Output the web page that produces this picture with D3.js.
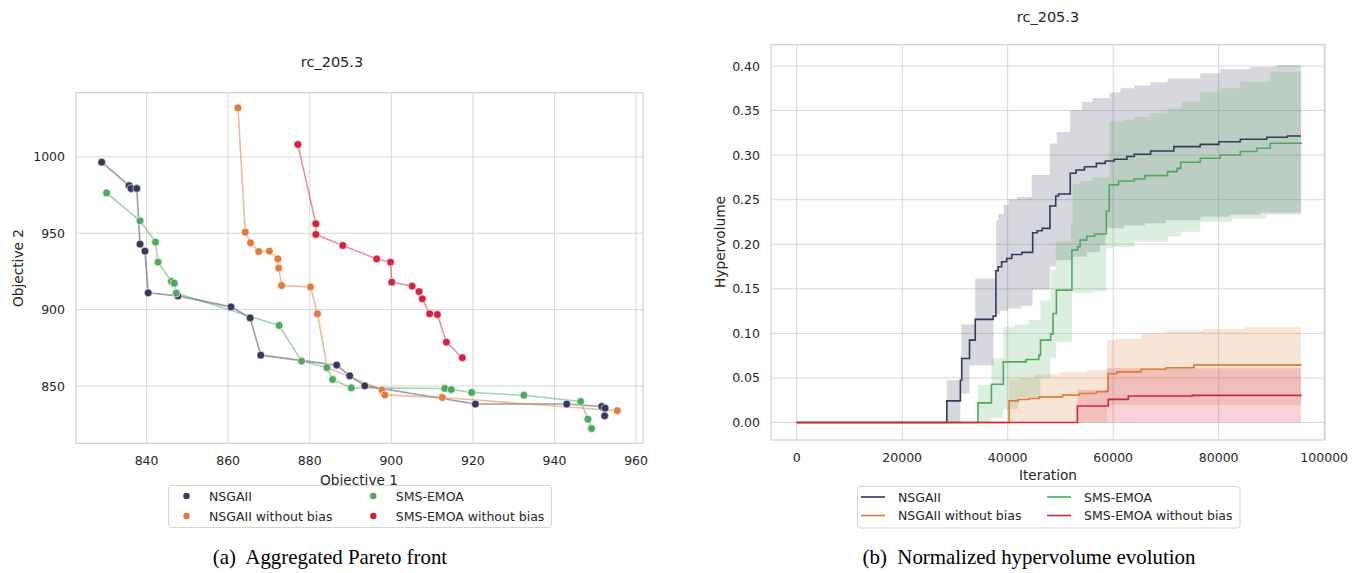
<!DOCTYPE html>
<html>
<head>
<meta charset="utf-8">
<script src="https://cdn.jsdelivr.net/npm/d3@7"></script>
<style>
  html, body { margin: 0; padding: 0; background: #ffffff; }
  svg { display: block; }
  text { font-family: "DejaVu Sans", sans-serif; fill: #262626; }
  .cap { font-family: "Liberation Serif", "Times New Roman", serif; fill: #000; }
</style>
</head>
<body>
<svg id="chart" width="1362" height="573"></svg>
<script>
// ---------------- DATA ----------------
const seriesNames = ["NSGAII", "NSGAII without bias", "SMS-EMOA", "SMS-EMOA without bias"];
const seriesColors = ["#35395a", "#e07b39", "#4fa85d", "#d1253f"];
const chartTitle = "rc_205.3";

// (a) aggregated Pareto fronts: [objective1, objective2]
const nsgaFront = [[829.0,996.5],[835.7,981.2],[836.2,979.3],[837.6,979.3],[838.4,942.9],[839.6,938.3],[840.4,911.0],[847.7,909.0],[860.7,901.8],[865.4,894.6],[868.0,870.2],[886.6,863.7],[889.8,856.7],[893.5,850.1],[920.6,838.2],[943.0,838.2],[951.6,836.6],[952.4,835.5],[952.3,830.5]];
const nsgaNbFront = [[862.4,1032.1],[864.2,950.7],[865.5,943.7],[867.5,938.0],[870.1,938.3],[872.2,933.2],[872.4,927.2],[873.1,915.8],[880.2,914.9],[881.9,897.3],[884.3,862.1],[897.7,847.5],[898.4,844.2],[912.5,842.5],[955.4,833.8]];
const smsFront = [[830.2,976.4],[838.4,958.1],[842.2,944.2],[842.8,931.1],[846.1,918.4],[846.8,917.3],[847.3,910.8],[872.5,889.6],[878.0,866.3],[884.2,862.1],[885.6,854.3],[890.2,848.8],[913.1,848.4],[914.7,847.7],[919.7,845.8],[932.5,844.0],[946.4,839.9],[948.2,828.3],[949.1,822.2]];
const smsNbFront = [[877.1,1008.1],[881.5,956.2],[881.5,949.2],[888.1,942.0],[896.4,933.2],[899.8,931.1],[900.1,918.0],[905.1,915.4],[906.8,911.8],[907.6,907.1],[909.4,897.3],[911.3,896.8],[913.5,878.7],[917.4,868.5]];
const frontTicksX = [840, 860, 880, 900, 920, 940, 960];
const frontTicksY = [850, 900, 950, 1000];

// (b) hypervolume evolution: step series [iteration, value]
const nsgaMean = [[0,0],[28460,0.0243],[31030,0.0475],[31280,0.0719],[32760,0.0924],[33850,0.1157],[37240,0.1194],[37760,0.1703],[38200,0.1748],[38850,0.1804],[39800,0.1841],[40770,0.1886],[42690,0.1909],[44740,0.2130],[45580,0.2152],[46540,0.2178],[48010,0.2429],[49100,0.2541],[49620,0.2564],[51860,0.2796],[52950,0.2833],[54550,0.2870],[56800,0.2908],[58500,0.2935],[60200,0.2953],[62600,0.2985],[64000,0.3010],[67100,0.3047],[71500,0.3095],[76500,0.3121],[80000,0.3151],[84100,0.3178],[89100,0.3200],[93000,0.3215],[95600,0.3215]];
const nsgaLow = [[0,0],[31000,0.0326],[32760,0.064],[37300,0.122],[38500,0.1255],[40000,0.128],[42500,0.131],[44700,0.149],[48000,0.175],[49100,0.182],[52000,0.186],[55000,0.191],[57500,0.199],[58500,0.218],[62000,0.221],[66000,0.2236],[70000,0.227],[76500,0.231],[82000,0.233],[88000,0.2355],[95600,0.2385]];
const nsgaHigh = [[0,0],[28460,0.0475],[31200,0.110],[33850,0.1617],[37800,0.227],[38200,0.234],[39200,0.244],[40200,0.2505],[41800,0.253],[44550,0.2777],[48000,0.313],[49300,0.326],[51860,0.3507],[54100,0.360],[56100,0.364],[59300,0.3694],[60000,0.3705],[61400,0.375],[64000,0.378],[67100,0.3817],[70300,0.386],[76500,0.3918],[80300,0.3966],[86000,0.399],[91000,0.401],[95600,0.403]];

const nsgaNbMean = [[0,0],[40260,0.0243],[42000,0.0258],[44000,0.0269],[46000,0.0288],[50400,0.0307],[53600,0.0326],[56800,0.0345],[58800,0.0355],[59050,0.0548],[60700,0.0568],[65300,0.0598],[70000,0.0615],[75300,0.0647],[95600,0.0654]];
const nsgaNbLow = [[0,0],[58800,0.0196],[95600,0.0198]];
const nsgaNbHigh = [[0,0],[40260,0.048],[42000,0.050],[45000,0.054],[50000,0.057],[55000,0.059],[58800,0.0925],[60500,0.094],[65400,0.100],[70000,0.103],[77000,0.105],[85000,0.107],[95600,0.1088]];

const smsMean = [[0,0],[34360,0.0221],[36920,0.043],[39170,0.0681],[43500,0.0707],[45900,0.0756],[46220,0.0924],[48140,0.0992],[48590,0.1224],[49230,0.1486],[52180,0.1935],[53270,0.1972],[53720,0.2047],[55000,0.2090],[56470,0.2115],[58700,0.2374],[59250,0.2666],[61000,0.2710],[64000,0.2733],[66000,0.2770],[70300,0.2815],[72100,0.2852],[72800,0.2920],[76500,0.2965],[80300,0.3002],[84100,0.3040],[87200,0.3077],[89750,0.3133],[95600,0.3144]];
const smsLow = [[0,0],[36900,0.005],[39170,0.015],[42000,0.028],[46200,0.050],[48100,0.072],[49200,0.090],[52200,0.145],[56000,0.147],[58700,0.1955],[60000,0.197],[64000,0.203],[70300,0.2086],[72800,0.214],[76500,0.2254],[82500,0.229],[89000,0.233],[95600,0.2348]];
const smsHigh = [[0,0],[34360,0.042],[36920,0.072],[39170,0.107],[41400,0.110],[44000,0.115],[46200,0.137],[48140,0.171],[49100,0.203],[52000,0.2234],[52300,0.268],[53800,0.271],[56000,0.275],[59250,0.3376],[62000,0.340],[64000,0.343],[67000,0.347],[70300,0.3525],[73000,0.360],[76500,0.371],[80300,0.375],[84100,0.3824],[89800,0.3936],[95600,0.3955]];

const smsNbMean = [[0,0],[53200,0.0185],[59070,0.0260],[62860,0.0297],[75000,0.0305],[95600,0.0314]];
const smsNbLow = [[0,0],[95600,0]];
const smsNbHigh = [[0,0],[53200,0.0364],[58800,0.061],[95600,0.061]];

const hvTicksX = [0, 20000, 40000, 60000, 80000, 100000];
const hvTicksY = [0, 0.05, 0.10, 0.15, 0.20, 0.25, 0.30, 0.35, 0.40];

// ---------------- DRAW ----------------
const svg = d3.select("#chart");
svg.append("rect").attr("width", 1362).attr("height", 573).attr("fill", "#fff");
const gridColor = "#d6d6d6", spineColor = "#cfcfcf";

function frame(g, x, y, ticksX, ticksY, fmtX, fmtY) {
  const [x0, x1] = x.range(), [y0, y1] = y.range();
  g.append("g").selectAll("line").data(ticksX).join("line")
    .attr("x1", d => x(d)).attr("x2", d => x(d)).attr("y1", y0).attr("y2", y1)
    .attr("stroke", gridColor).attr("stroke-width", 1);
  g.append("g").selectAll("line").data(ticksY).join("line")
    .attr("y1", d => y(d)).attr("y2", d => y(d)).attr("x1", x0).attr("x2", x1)
    .attr("stroke", gridColor).attr("stroke-width", 1);
  g.append("rect").attr("x", x0).attr("y", y1).attr("width", x1 - x0).attr("height", y0 - y1)
    .attr("fill", "none").attr("stroke", spineColor).attr("stroke-width", 1.2);
  g.append("g").selectAll("text").data(ticksX).join("text")
    .attr("x", d => x(d)).attr("y", y0 + 22).attr("text-anchor", "middle")
    .attr("font-size", 12.5).text(fmtX);
  g.append("g").selectAll("text").data(ticksY).join("text")
    .attr("x", x0 - 11).attr("y", d => y(d) + 4.5).attr("text-anchor", "end")
    .attr("font-size", 12.5).text(fmtY);
}

// ---- (a) Pareto front ----
const xa = d3.scaleLinear().domain([822.7, 961.7]).range([76, 643]);
const ya = d3.scaleLinear().domain([812.5, 1042]).range([443.3, 92.7]);
const ga = svg.append("g");
frame(ga, xa, ya, frontTicksX, frontTicksY, d => d, d => d);
ga.append("text").attr("x", 332).attr("y", 67).attr("text-anchor", "middle").attr("font-size", 14.5).text(chartTitle);
ga.append("text").attr("x", 359).attr("y", 485).attr("text-anchor", "middle").attr("font-size", 13.7).text("Objective 1");
ga.append("text").attr("transform", "translate(23,268) rotate(-90)").attr("text-anchor", "middle").attr("font-size", 13.7).text("Objective 2");

const fronts = [nsgaFront, nsgaNbFront, smsFront, smsNbFront];
const lineA = d3.line().x(d => xa(d[0])).y(d => ya(d[1]));
fronts.forEach((f, i) => {
  ga.append("path").attr("d", lineA(f)).attr("fill", "none")
    .attr("stroke", seriesColors[i]).attr("stroke-opacity", 0.5).attr("stroke-width", 1.6);
});
fronts.forEach((f, i) => {
  ga.append("g").selectAll("circle").data(f).join("circle")
    .attr("cx", d => xa(d[0])).attr("cy", d => ya(d[1])).attr("r", 3.9)
    .attr("fill", seriesColors[i]).attr("stroke", "#fff").attr("stroke-width", 0.6);
});

// legend (a)
const la = svg.append("g");
la.append("rect").attr("x", 168.5).attr("y", 485.5).attr("width", 383).attr("height", 42).attr("rx", 3)
  .attr("fill", "#fff").attr("stroke", "#d4d4d4");
const legPos = [[186.5, 496], [186.5, 516], [373.3, 496], [373.3, 516]];
const legOrder = [0, 1, 2, 3];
legOrder.forEach((s, k) => {
  const [lx, ly] = legPos[k];
  la.append("circle").attr("cx", lx).attr("cy", ly).attr("r", 3.2).attr("fill", seriesColors[s]);
  la.append("text").attr("x", lx + 22.5).attr("y", ly + 4.5).attr("font-size", 12.5).text(seriesNames[s]);
});

// ---- (b) Hypervolume ----
const xb = d3.scaleLinear().domain([-4872, 100152]).range([771, 1325]);
const yb = d3.scaleLinear().domain([-0.0196, 0.4239]).range([440, 44.7]);
const gb = svg.append("g");
frame(gb, xb, yb, hvTicksX, hvTicksY, d => d, d => d3.format(".2f")(d));
gb.append("text").attr("x", 1048).attr("y", 22).attr("text-anchor", "middle").attr("font-size", 14.5).text(chartTitle);
gb.append("text").attr("x", 1048).attr("y", 480).attr("text-anchor", "middle").attr("font-size", 13.7).text("Iteration");
gb.append("text").attr("transform", "translate(725,242) rotate(-90)").attr("text-anchor", "middle").attr("font-size", 13.7).text("Hypervolume");

function stepAt(arr, x) {
  let v = arr[0][1];
  for (const p of arr) { if (p[0] <= x) v = p[1]; else break; }
  return v;
}
function bandOf(lo, hi) {
  const xs = Array.from(new Set(lo.map(d => d[0]).concat(hi.map(d => d[0])))).sort((a, b) => a - b);
  return xs.map(x => [x, stepAt(lo, x), stepAt(hi, x)]);
}
const bands = [bandOf(nsgaLow, nsgaHigh), bandOf(nsgaNbLow, nsgaNbHigh), bandOf(smsLow, smsHigh), bandOf(smsNbLow, smsNbHigh)];
const means = [nsgaMean, nsgaNbMean, smsMean, smsNbMean];
const areaB = d3.area().curve(d3.curveStepAfter).x(d => xb(d[0])).y0(d => yb(d[1])).y1(d => yb(d[2]));
const lineB = d3.line().curve(d3.curveStepAfter).x(d => xb(d[0])).y(d => yb(d[1]));
bands.forEach((b, i) => {
  gb.append("path").attr("d", areaB(b)).attr("fill", seriesColors[i]).attr("fill-opacity", 0.2);
});
means.forEach((m, i) => {
  gb.append("path").attr("d", lineB(m)).attr("fill", "none").attr("stroke", seriesColors[i]).attr("stroke-width", 1.6);
});

// legend (b)
const lb = svg.append("g");
lb.append("rect").attr("x", 857.5).attr("y", 486.5).attr("width", 382.5).attr("height", 41.5).attr("rx", 3)
  .attr("fill", "#fff").attr("stroke", "#d4d4d4");
const legPosB = [[861, 497], [861, 515.5], [1047, 497], [1047, 515.5]];
legOrder.forEach((s, k) => {
  const [lx, ly] = legPosB[k];
  lb.append("line").attr("x1", lx).attr("x2", lx + 24).attr("y1", ly).attr("y2", ly)
    .attr("stroke", seriesColors[s]).attr("stroke-width", 1.6);
  lb.append("text").attr("x", lx + 37).attr("y", ly + 4.5).attr("font-size", 12.5).text(seriesNames[s]);
});

// captions
svg.append("text").attr("class", "cap").attr("x", 330).attr("y", 564).attr("text-anchor", "middle")
  .attr("font-size", 20.9).text("(a)\u00a0 Aggregated Pareto front");
svg.append("text").attr("class", "cap").attr("x", 1029).attr("y", 564).attr("text-anchor", "middle")
  .attr("font-size", 20.9).text("(b)\u00a0 Normalized hypervolume evolution");
</script>
</body>
</html>
